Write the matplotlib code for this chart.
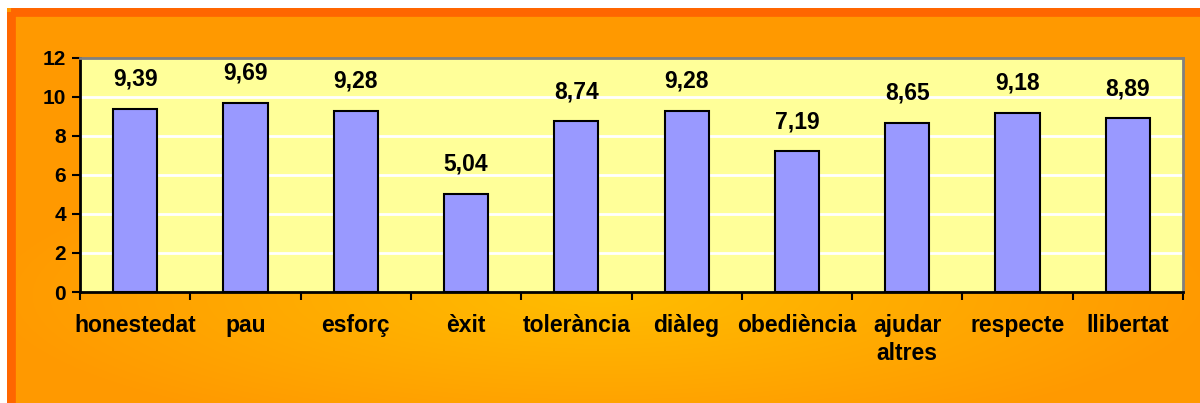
import numpy as np
import matplotlib.pyplot as plt
from matplotlib.patches import Rectangle

# data
categories = ["honestedat", "pau", "esforç", "èxit", "tolerància", "diàleg",
              "obediència", "ajudar\naltres", "respecte", "llibertat"]
values = [9.39, 9.69, 9.28, 5.04, 8.74, 9.28, 7.19, 8.65, 9.18, 8.89]
value_labels = ["9,39", "9,69", "9,28", "5,04", "8,74", "9,28", "7,19", "8,65", "9,18", "8,89"]
yticks = [0, 2, 4, 6, 8, 10, 12]

plt.rcParams['font.family'] = ['Liberation Sans', 'DejaVu Sans']
plt.rcParams['font.weight'] = 'bold'

W, H = 1200, 403
fig = plt.figure(figsize=(W / 100, H / 100), dpi=100)
fig.patch.set_facecolor('white')

# background box with orange gradient
bg = fig.add_axes([0, 0, 1, 1])
bg.axis('off')

yy, xx = np.mgrid[0:H, 0:W]
d = np.sqrt(((xx - 600) / 620.0) ** 2 + ((yy - 295) / 150.0) ** 2)
t = np.clip(d, 0, 1)
c_in = np.array([1.0, 0.74, 0.0])
c_out = np.array([1.0, 0.60, 0.0])
grad = c_in[None, None, :] * (1 - t[..., None]) + c_out[None, None, :] * t[..., None]
bg.imshow(grad, extent=[0, W, H, 0], aspect='auto', zorder=0)
bg.add_patch(Rectangle((10.5, 11.5), W + 20, H + 20, fill=False,
                       edgecolor='#FF6600', linewidth=7, zorder=1))
bg.add_patch(Rectangle((0, 0), 7, H, facecolor='white', edgecolor='none', zorder=2))
bg.add_patch(Rectangle((0, 0), W, 8, facecolor='white', edgecolor='none', zorder=2))
bg.set_xlim(0, W)
bg.set_ylim(H, 0)

# main plot
left, right, top, bottom = 80, 1183, 57.5, 292
ax = fig.add_axes([left / W, (H - bottom) / H, (right - left) / W, (bottom - top) / H])
ax.set_facecolor('#FFFF99')

x = np.arange(len(categories))
ax.bar(x, values, width=0.4, color='#9999FF', edgecolor='black', linewidth=1.5, zorder=3)

for xi, v, lab in zip(x, values, value_labels):
    ax.annotate(lab, (xi, v), xytext=(0, 13), textcoords='offset points',
                ha='center', va='bottom', fontsize=16.5, fontweight='bold')

ax.set_xlim(-0.5, len(categories) - 0.5)
ax.set_ylim(0, 12)
ax.set_yticks(yticks)
ax.set_yticklabels([str(v) for v in yticks], fontsize=15, fontweight='bold')
ax.set_xticks(x)
ax.set_xticklabels(categories, fontsize=16.5, fontweight='bold', linespacing=1.25)
ax.set_xticks(np.arange(-0.5, len(categories)), minor=True)
ax.tick_params(axis='x', which='major', length=0, pad=16)
ax.tick_params(axis='x', which='minor', length=6, width=1.5, direction='out')
ax.tick_params(axis='y', length=6, width=1.5, direction='out', pad=4)

for yv in yticks[1:-1]:
    ax.axhline(yv, color='white', linewidth=2, zorder=1)

ax.spines['left'].set_linewidth(2)
ax.spines['bottom'].set_linewidth(2)
ax.spines['top'].set_color('#808080')
ax.spines['right'].set_color('#808080')
ax.spines['top'].set_linewidth(2)
ax.spines['right'].set_linewidth(2)

fig.savefig('out.png', dpi=100)
